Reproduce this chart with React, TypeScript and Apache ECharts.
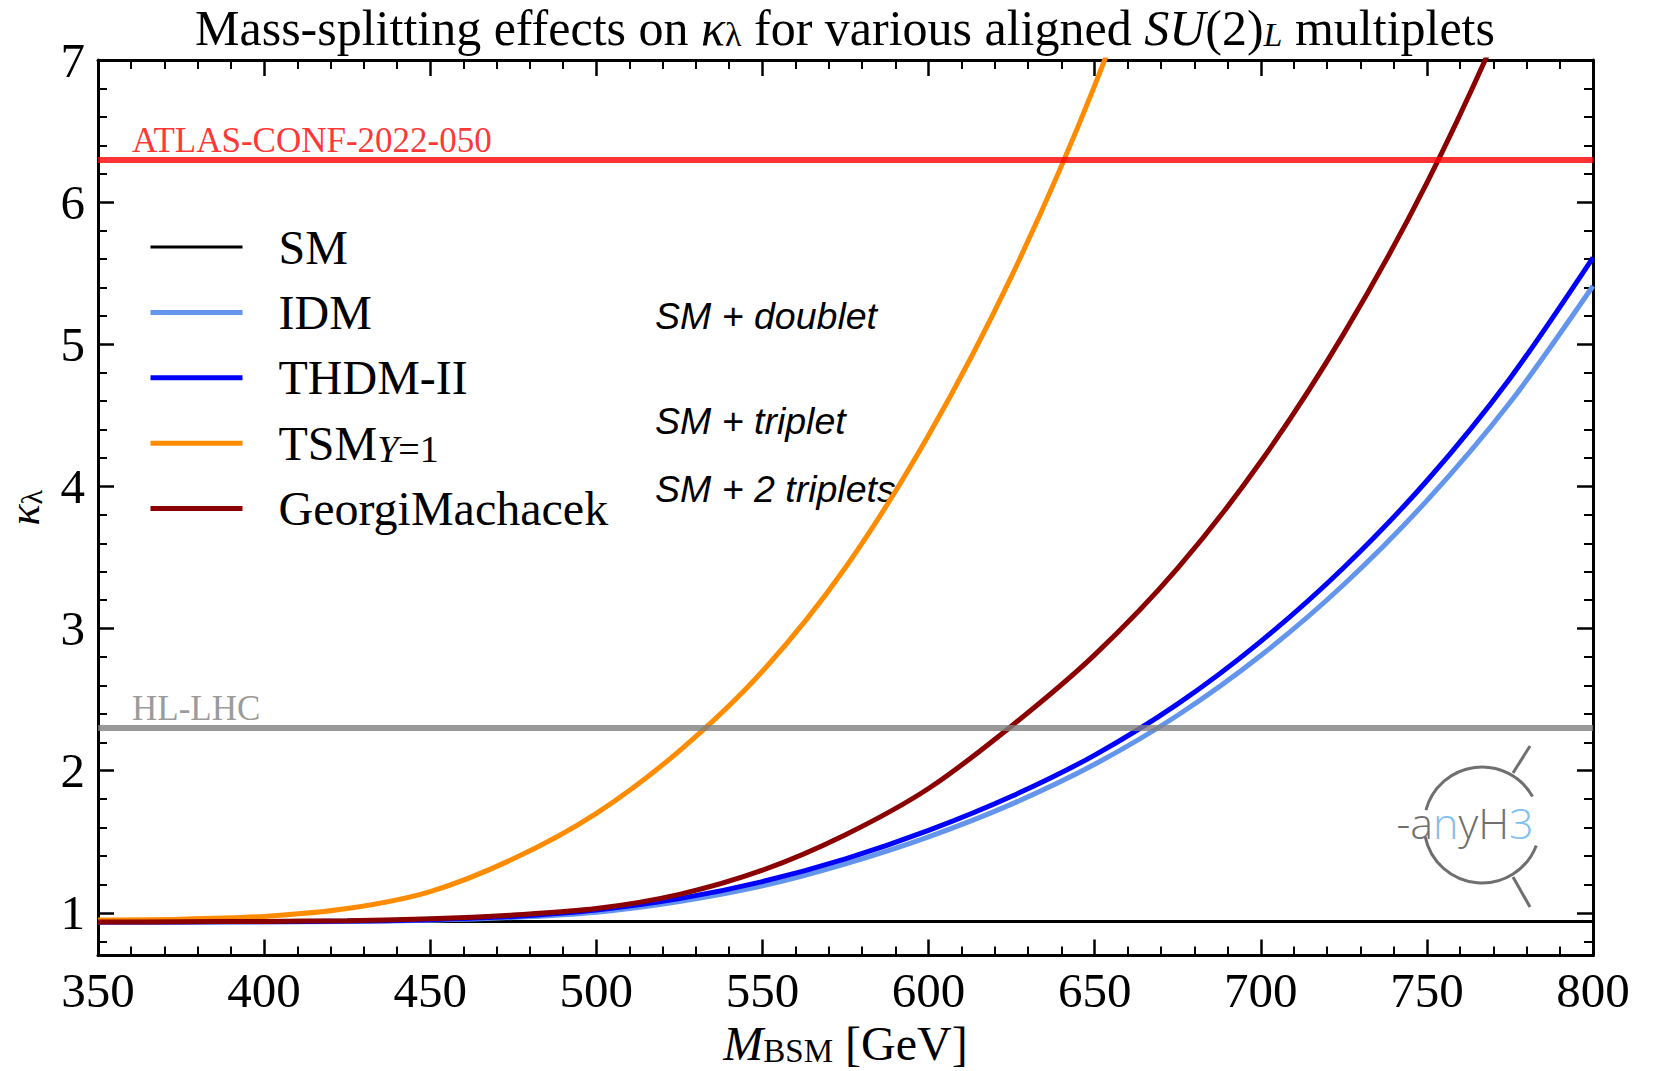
import React, { useEffect, useRef } from "react";
import * as echarts from "echarts";

// ---------- data ----------
const masses = [350, 375, 400, 425, 450, 475, 500, 525, 550, 575, 600, 625, 650, 675, 700, 725, 750, 775, 800];
const smKappa = [0.94, 0.94, 0.94, 0.94, 0.94, 0.94, 0.94, 0.94, 0.94, 0.94, 0.94, 0.94, 0.94, 0.94, 0.94, 0.94, 0.94, 0.94, 0.94];
const idmKappa = [0.935, 0.936, 0.937, 0.94, 0.948, 0.968, 1.005, 1.08, 1.19, 1.345, 1.535, 1.765, 2.045, 2.39, 2.81, 3.31, 3.9, 4.59, 5.41];
const thdmKappa = [0.935, 0.936, 0.938, 0.942, 0.952, 0.975, 1.02, 1.1, 1.22, 1.38, 1.58, 1.82, 2.11, 2.47, 2.91, 3.43, 4.04, 4.76, 5.61];
const tsmKappa = [0.95, 0.955, 0.975, 1.03, 1.15, 1.38, 1.7, 2.14, 2.7, 3.43, 4.36, 5.48, 6.82, 8.42];
const gmKappa = [0.935, 0.937, 0.94, 0.945, 0.958, 0.985, 1.03, 1.13, 1.3, 1.55, 1.875, 2.315, 2.815, 3.425, 4.175, 5.075, 6.135, 7.395, 8.835];

const yMajorTicks = [1, 2, 3, 4, 5, 6, 7];
const yMinorTicks = [0.8, 1.2, 1.4, 1.6, 1.8, 2.2, 2.4, 2.6, 2.8, 3.2, 3.4, 3.6, 3.8, 4.2, 4.4, 4.6, 4.8, 5.2, 5.4, 5.6, 5.8, 6.2, 6.4, 6.6, 6.8];
const atlasLimit = 6.3;
const hlLhcLimit = 2.3;
const atlasLabel = "ATLAS-CONF-2022-050";
const hlLhcLabel = "HL-LHC";
const annotationTexts = ["SM + doublet", "SM + triplet", "SM + 2 triplets"];

const SERIF = "'Liberation Serif', 'Times New Roman', serif";
const SANS = "'Liberation Sans', Arial, sans-serif";
const LOGO_FONT = "'Open Sans', 'Noto Sans', sans-serif";

const pairs = (vals: number[]) => vals.map((v, i) => [masses[i], v]);

export default function App() {
  const ref = useRef<HTMLDivElement>(null);
  useEffect(() => {
    document.body.style.margin = "0";
    const chart = echarts.init(ref.current!, null, { renderer: "svg" });
    const axisLineStyle = { color: "#000", width: 3 };
    const majorTick = { show: true, inside: true, length: 16, lineStyle: { color: "#000", width: 2.5 } };
    const minorTickX = { show: true, splitNumber: 5, length: 9, lineStyle: { color: "#000", width: 2 } };
    const lineSeries = (name: string, vals: number[], color: string, width: number) => ({
      name,
      type: "line",
      data: pairs(vals),
      xAxisIndex: 0,
      yAxisIndex: 0,
      symbol: "none",
      showSymbol: false,
      smooth: 0.3,
      clip: true,
      lineStyle: { color, width },
      itemStyle: { color },
      emphasis: { disabled: true },
    });
    const option: any = {
      animation: false,
      backgroundColor: "#ffffff",
      title: {
        text: "Mass-splitting effects on {i|κ}{sub|λ} for various aligned {i|SU}(2){subi|L} multiplets",
        left: 845,
        textAlign: "center",
        top: 5,
        padding: 0,
        textStyle: {
          fontFamily: SERIF,
          fontSize: 50,
          fontWeight: "normal",
          color: "#000",
          lineHeight: 46,
          rich: {
            i: { fontFamily: SERIF, fontSize: 50, fontStyle: "italic", color: "#000", lineHeight: 46 },
            sub: { fontFamily: SERIF, fontSize: 34, color: "#000", verticalAlign: "bottom", lineHeight: 20 },
            subi: { fontFamily: SERIF, fontSize: 34, fontStyle: "italic", color: "#000", verticalAlign: "bottom", lineHeight: 20 },
          },
        },
      },
      grid: { left: 98, right: 62, top: 60, bottom: 115.5, containLabel: false, outerBoundsMode: "none" },
      legend: {
        orient: "vertical",
        left: 143,
        top: 217,
        itemWidth: 92,
        itemHeight: 50,
        itemGap: 15.4,
        selectedMode: false,
        data: ["SM", "IDM", "THDM-II", "TSM", "GeorgiMachacek"],
        lineStyle: { width: "inherit" },
        itemStyle: { opacity: 0 },
        formatter: (name: string) => (name === "TSM" ? "{n|TSM}{si|Y}{s|=1}" : name),
        textStyle: {
          fontFamily: SERIF,
          fontSize: 48,
          color: "#000",
          lineHeight: 50,
          padding: [0, 0, 0, 31],
          rich: {
            n: { fontFamily: SERIF, fontSize: 48, color: "#000", lineHeight: 50 },
            si: { fontFamily: SERIF, fontSize: 38, fontStyle: "italic", color: "#000", verticalAlign: "bottom", lineHeight: 26 },
            s: { fontFamily: SERIF, fontSize: 38, color: "#000", verticalAlign: "bottom", lineHeight: 26 },
          },
        },
      },
      xAxis: [
        {
          type: "value",
          position: "bottom",
          min: 350,
          max: 800,
          interval: 50,
          name: "{i|M}{sub|BSM} [GeV]",
          nameLocation: "middle",
          nameGap: 60,
          nameTextStyle: {
            fontFamily: SERIF,
            fontSize: 48,
            color: "#000",
            rich: {
              i: { fontFamily: SERIF, fontSize: 48, fontStyle: "italic", color: "#000" },
              sub: { fontFamily: SERIF, fontSize: 33, color: "#000", verticalAlign: "bottom", lineHeight: 26 },
            },
          },
          axisLine: { show: true, lineStyle: axisLineStyle },
          axisTick: majorTick,
          minorTick: minorTickX,
          splitLine: { show: false },
          minorSplitLine: { show: false },
          axisLabel: { show: true, margin: 10, fontFamily: SERIF, fontSize: 49, color: "#000" },
        },
        {
          type: "value",
          position: "top",
          min: 350,
          max: 800,
          interval: 50,
          axisLine: { show: true, lineStyle: axisLineStyle },
          axisTick: majorTick,
          minorTick: minorTickX,
          splitLine: { show: false },
          axisLabel: { show: false },
        },
      ],
      yAxis: [
        {
          type: "value",
          position: "left",
          min: 0.7,
          max: 7,
          name: "{i|κ}{sub|λ}",
          nameLocation: "middle",
          nameRotate: 90,
          nameGap: 52,
          nameTextStyle: {
            fontFamily: SERIF,
            fontSize: 44,
            color: "#000",
            rich: {
              i: { fontFamily: SERIF, fontSize: 44, fontStyle: "italic", color: "#000" },
              sub: { fontFamily: SERIF, fontSize: 30, color: "#000", verticalAlign: "bottom", lineHeight: 22 },
            },
          },
          axisLine: { show: true, lineStyle: axisLineStyle },
          axisTick: { ...majorTick, customValues: yMajorTicks },
          splitLine: { show: false },
          axisLabel: { show: true, customValues: yMajorTicks, margin: 13, fontFamily: SERIF, fontSize: 49, color: "#000" },
        },
        {
          type: "value",
          position: "left",
          min: 0.7,
          max: 7,
          axisLine: { show: false },
          axisTick: { show: true, inside: true, length: 9, customValues: yMinorTicks, lineStyle: { color: "#000", width: 2 } },
          splitLine: { show: false },
          axisLabel: { show: false },
        },
        {
          type: "value",
          position: "right",
          min: 0.7,
          max: 7,
          axisLine: { show: true, lineStyle: axisLineStyle },
          axisTick: { ...majorTick, customValues: yMajorTicks },
          splitLine: { show: false },
          axisLabel: { show: false },
        },
        {
          type: "value",
          position: "right",
          min: 0.7,
          max: 7,
          axisLine: { show: false },
          axisTick: { show: true, inside: true, length: 9, customValues: yMinorTicks, lineStyle: { color: "#000", width: 2 } },
          splitLine: { show: false },
          axisLabel: { show: false },
        },
      ],
      series: [
        lineSeries("SM", smKappa, "#000000", 3),
        lineSeries("IDM", idmKappa, "#6495ed", 5),
        lineSeries("THDM-II", thdmKappa, "#0000ff", 5),
        lineSeries("TSM", tsmKappa, "#ff8c00", 5),
        lineSeries("GeorgiMachacek", gmKappa, "#8b0000", 5),
        {
          name: "limits",
          type: "line",
          data: [],
          xAxisIndex: 0,
          yAxisIndex: 0,
          markLine: {
            silent: true,
            symbol: "none",
            animation: false,
            data: [
              {
                yAxis: atlasLimit,
                lineStyle: { color: "rgba(255,0,0,0.8)", width: 6, type: "solid" },
                label: {
                  show: true,
                  formatter: atlasLabel,
                  position: "insideStartTop",
                  distance: [34, 2],
                  color: "rgba(255,0,0,0.8)",
                  fontFamily: SERIF,
                  fontSize: 35,
                },
              },
              {
                yAxis: hlLhcLimit,
                lineStyle: { color: "rgba(128,128,128,0.8)", width: 6, type: "solid" },
                label: {
                  show: true,
                  formatter: hlLhcLabel,
                  position: "insideStartTop",
                  distance: [34, 2],
                  color: "rgba(128,128,128,0.8)",
                  fontFamily: SERIF,
                  fontSize: 35,
                },
              },
            ],
          },
        },
      ],
      graphic: [
        ...annotationTexts.map((t, i) => ({
          type: "text",
          x: 655,
          y: [316, 421, 489][i],
          silent: true,
          style: {
            text: t,
            fontFamily: SANS,
            fontStyle: "italic",
            fontSize: 37.5,
            fill: "#000",
            align: "left",
            verticalAlign: "middle",
            textAlign: "left",
            textVerticalAlign: "middle",
          },
        })),
        {
          type: "group",
          silent: true,
          children: [
            { type: "arc", shape: { cx: 1482, cy: 825, r: 58, startAngle: 3.4, endAngle: 5.77, clockwise: true }, style: { stroke: "#6f6f6f", lineWidth: 3, fill: null } },
            { type: "arc", shape: { cx: 1482, cy: 825, r: 58, startAngle: 0.36, endAngle: 2.94, clockwise: true }, style: { stroke: "#6f6f6f", lineWidth: 3, fill: null } },
            { type: "line", shape: { x1: 1513, y1: 773, x2: 1530, y2: 746 }, style: { stroke: "#6f6f6f", lineWidth: 3 } },
            { type: "line", shape: { x1: 1513, y1: 877, x2: 1530, y2: 907 }, style: { stroke: "#6f6f6f", lineWidth: 3 } },
            {
              type: "text",
              x: 1465,
              y: 822,
              style: {
                text: "{g|-a}{b|n}{g|yH}{b|3}",
                align: "center",
                verticalAlign: "middle",
                textAlign: "center",
                textVerticalAlign: "middle",
                rich: {
                  g: { fontFamily: LOGO_FONT, fontWeight: 300, fontSize: 43, fill: "#6f6f6f", color: "#6f6f6f" },
                  b: { fontFamily: LOGO_FONT, fontWeight: 300, fontSize: 43, fill: "#82c0ee", color: "#82c0ee" },
                },
              },
            },
          ],
        },
      ],
    };
    chart.setOption(option);
    return () => chart.dispose();
  }, []);
  return <div ref={ref} style={{ width: 1655, height: 1071 }} />;
}
